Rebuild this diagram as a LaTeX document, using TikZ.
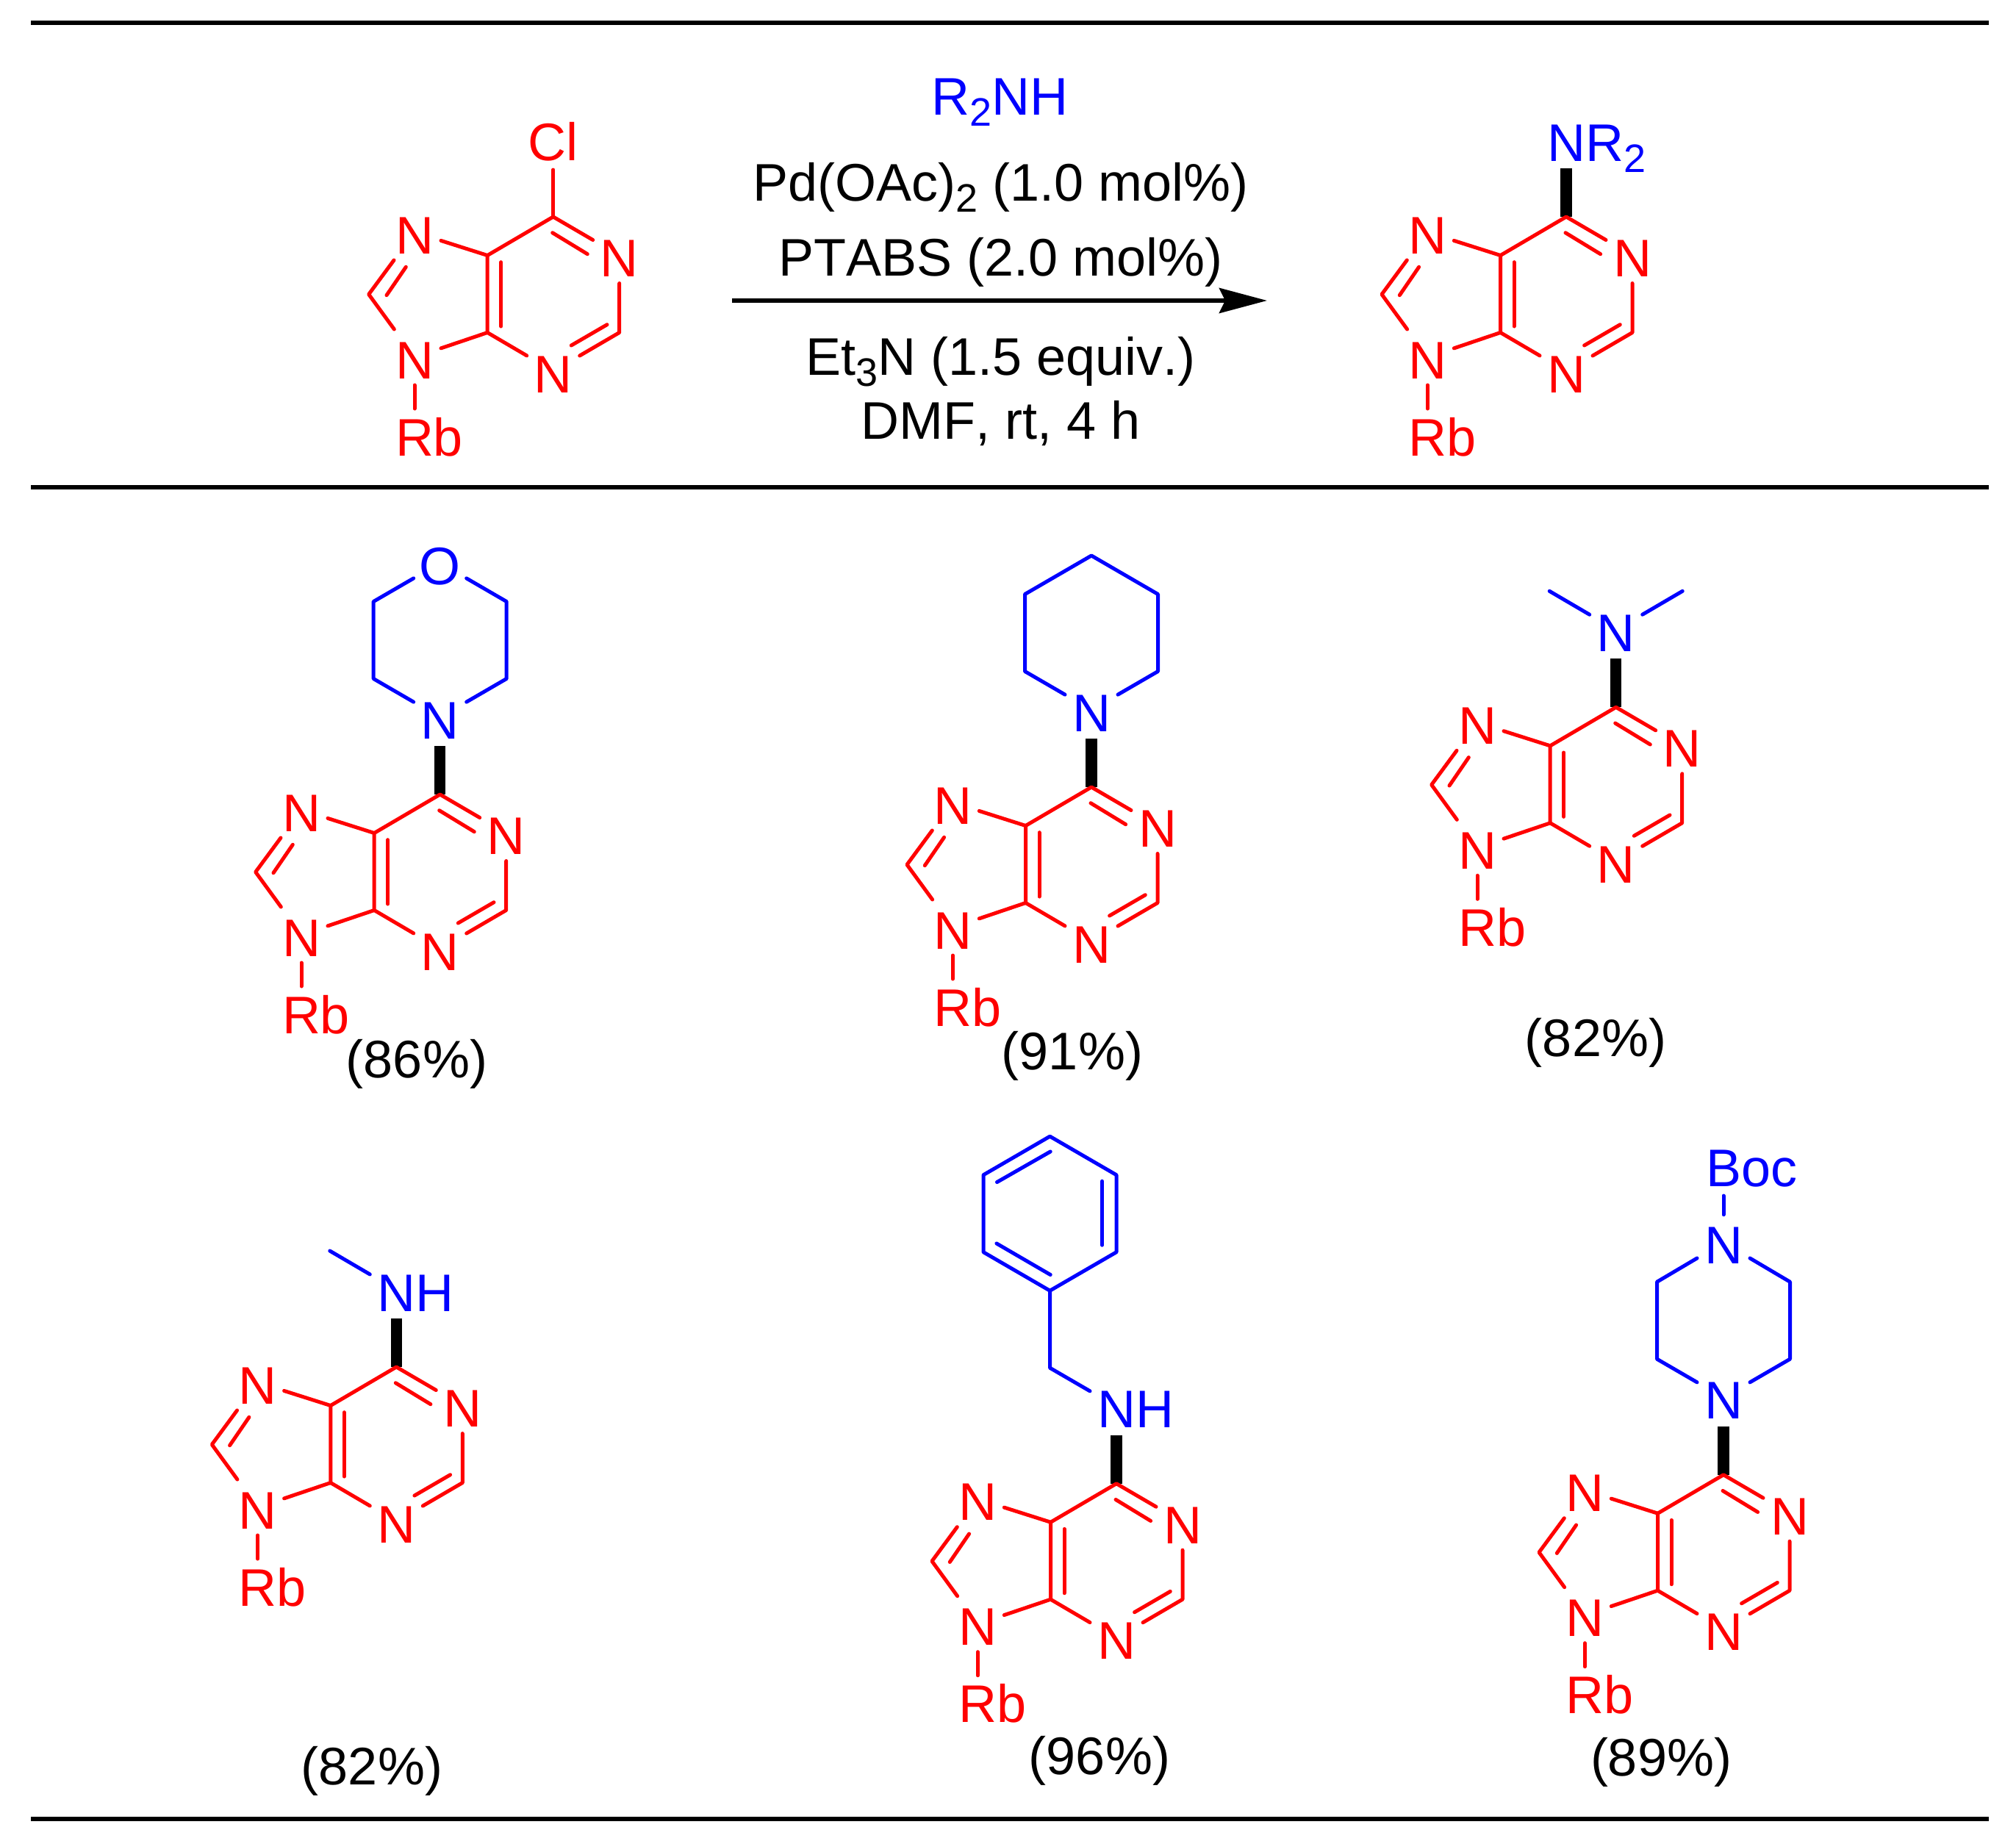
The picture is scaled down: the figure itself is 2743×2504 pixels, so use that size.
\documentclass[tikz,border=0pt]{standalone}
\usepackage{fontspec}
\setmainfont{Liberation Sans}[Kerning=Off]
\usetikzlibrary{arrows.meta,calc}
\pgfdeclarelayer{under}
\pgfsetlayers{under,main}
\newcommand\sbs[1]{\raisebox{-15pt}{\fontsize{54pt}{54pt}\selectfont #1}}
\tikzset{
  rbond/.style={draw=red,line width=5pt,line cap=round,line join=round},
  bbond/.style={draw=blue,line width=5pt,line cap=round,line join=round},
  wedgebond/.style={draw=black,line width=15.5pt,line cap=butt,shorten >=1pt},
  rulebar/.style={draw=black,line width=6pt},
  bigtext/.style={font=\fontsize{72pt}{80pt}\selectfont,inner sep=0pt,outer sep=0pt},
  atomn/.style={bigtext,minimum width=72pt,text height=67pt,text depth=9pt},
  atomr/.style={atomn,text=red},
  atomb/.style={atomn,text=blue},
  rbtext/.style={bigtext,text=red,anchor=base west,text height=64pt,text depth=0pt},
  labeltext/.style={bigtext,anchor=base,text=black},
  reagent/.style={bigtext,anchor=base,text=black}
}
% purine core: #1 prefix, (#2,#3) position of C6
\newcommand\purine[3]{%
\begin{scope}[shift={(#2,#3)}]
  \coordinate (#1C6) at (0,0);
  \coordinate (#1C5) at (-89.5,52.5);
  \coordinate (#1C4) at (-89.5,157.5);
  \coordinate (#1C2) at (90,157.5);
  \coordinate (#1C8) at (-251,105.5);
  \node[atomr] (#1N1) at (90,52.5) {N};
  \node[atomr] (#1N3) at (0,210) {N};
  \node[atomr] (#1N7) at (-188.7,21) {N};
  \node[atomr] (#1N9) at (-188.7,191) {N};
  \node[rbtext] (#1Rb) at (-214.7,325) {Rb};
  \coordinate (#1i1a) at (-1,21.7);
  \coordinate (#1i1b) at (46.6,50.7);
  \coordinate (#1i2a) at (-71,61.7);
  \coordinate (#1i2b) at (-71,149);
  \coordinate (#1i3a) at (24.6,175);
  \coordinate (#1i3b) at (73.3,146.7);
  \coordinate (#1i4a) at (-226.7,106.7);
  \coordinate (#1i4b) at (-200.4,68.3);
  \draw[rbond] (#1N7) -- (#1C5) -- (#1C6) -- (#1N1);
  \draw[rbond] (#1N1) -- (#1C2) -- (#1N3);
  \draw[rbond] (#1N3) -- (#1C4) -- (#1C5);
  \draw[rbond] (#1C4) -- (#1N9);
  \draw[rbond] (#1N9) -- (#1C8) -- (#1N7);
  \draw[rbond] (#1N9) -- (#1N9 |- #1Rb.north);
  \draw[rbond] (#1i1a) -- (#1i1b);
  \draw[rbond] (#1i2a) -- (#1i2b);
  \draw[rbond] (#1i3a) -- (#1i3b);
  \draw[rbond] (#1i4a) -- (#1i4b);
\end{scope}}
% six-ring corners above an atom at (0,0) of the current scope
\newcommand\ringcorners[1]{%
  \coordinate (#1a) at (-90.5,-52.5);
  \coordinate (#1b) at (-90.5,-157.5);
  \coordinate (#1c) at (0,-210);
  \coordinate (#1d) at (90.5,-157.5);
  \coordinate (#1e) at (90.5,-52.5);}
\newcommand\amwedge[2]{\begin{pgfonlayer}{under}\draw[wedgebond] (#1) -- (#2);\end{pgfonlayer}}
\begin{document}
\begin{tikzpicture}[x=1pt,y=-1pt]
\useasboundingbox (0,0) rectangle (2743,2504);
% rules
\coordinate (r1a) at (42,31); \coordinate (r1b) at (2706,31);
\coordinate (r2a) at (42,663); \coordinate (r2b) at (2706,663);
\coordinate (r3a) at (42,2475); \coordinate (r3b) at (2706,2475);
\draw[rulebar] (r1a) -- (r1b);
\draw[rulebar] (r2a) -- (r2b);
\draw[rulebar] (r3a) -- (r3b);
% reactant
\purine{s}{752.7}{295}
\node[bigtext,anchor=base,text=red,text height=52pt,text depth=13pt] (sCl) at (752.7,218) {Cl};
\draw[rbond] (sC6) -- (sCl.south);
% reagents
\node[reagent,text=blue] (rg1) at (1360,156) {R\sbs{2}NH};
\node[reagent] (rg2) at (1361.5,273) {Pd(OAc)\sbs{2} (1.0 mol\%)};
\node[reagent] (rg3) at (1361.5,375) {PTABS (2.0 mol\%)};
\node[reagent] (rg4) at (1361.5,510) {Et\sbs{3}N (1.5 equiv.)};
\node[reagent] (rg5) at (1361.5,597) {DMF, rt, 4 h};
\coordinate (arA) at (996,409);
\coordinate (arB) at (1724,409);
\draw[draw=black,line width=6pt,-{Stealth[length=65pt,width=34pt,inset=8pt,sep=0pt]}] (arA) -- (arB);
% product
\node[atomb] (pN) at (2131,190) {N\rlap{R\sbs{2}}};
\purine{p}{2131}{295}
\amwedge{pC6}{pN}
% morpholine product
\purine{a}{598.7}{1081}
\begin{scope}[shift={(598.7,976)}]
  \node[atomb] (aNx) at (0,0) {N};
  \ringcorners{ar}
  \node[atomb] (aO) at (0,-210) {O};
  \draw[bbond] (aNx) -- (ara) -- (arb) -- (aO);
  \draw[bbond] (aO) -- (ard) -- (are) -- (aNx);
\end{scope}
\amwedge{aC6}{aNx}
\node[labeltext] (ya) at (567,1466) {(86\%)};
% piperidine product
\purine{b}{1485}{1071}
\begin{scope}[shift={(1485,966)}]
  \node[atomb] (bNx) at (0,0) {N};
  \ringcorners{br}
  \draw[bbond] (bNx) -- (bra) -- (brb) -- (brc) -- (brd) -- (bre) -- (bNx);
\end{scope}
\amwedge{bC6}{bNx}
\node[labeltext] (yb) at (1459,1455) {(91\%)};
% dimethylamine product
\purine{c}{2198.7}{962.3}
\begin{scope}[shift={(2198.7,857.3)}]
  \node[atomb] (cNx) at (0,0) {N};
  \coordinate (cMe1) at (-90.5,-53);
  \coordinate (cMe2) at (90.5,-53);
  \draw[bbond] (cNx) -- (cMe1);
  \draw[bbond] (cNx) -- (cMe2);
\end{scope}
\amwedge{cC6}{cNx}
\node[labeltext] (yc) at (2171,1437) {(82\%)};
% methylamine product
\purine{d}{539.3}{1860}
\begin{scope}[shift={(539.3,1755)}]
  \node[atomb] (dNx) at (0,0) {N\rlap{H}};
  \coordinate (dMe) at (-90.5,-53);
  \draw[bbond] (dNx) -- (dMe);
\end{scope}
\amwedge{dC6}{dNx}
\node[labeltext] (yd) at (506,2428) {(82\%)};
% benzylamine product
\purine{e}{1519}{2018.7}
\begin{scope}[shift={(1519,1913.7)}]
  \node[atomb] (eNx) at (0,0) {N\rlap{H}};
  \coordinate (eCH) at (-90.5,-52.5);
  \coordinate (eRB) at (-90.5,-157.5);
  \draw[bbond] (eNx) -- (eCH) -- (eRB);
  \begin{scope}[shift={(-90.5,-157.5)}]
    \ringcorners{er}
    \coordinate (ei1a) at (71,-149);  \coordinate (ei1b) at (71,-62);
    \coordinate (ei2a) at (-72,-147.7); \coordinate (ei2b) at (0.7,-189.3);
    \coordinate (ei3a) at (-72.6,-64.3); \coordinate (ei3b) at (0.7,-21.7);
    \draw[bbond] (eRB) -- (era) -- (erb) -- (erc) -- (erd) -- (ere) -- cycle;
    \draw[bbond] (ei1a) -- (ei1b);
    \draw[bbond] (ei2a) -- (ei2b);
    \draw[bbond] (ei3a) -- (ei3b);
  \end{scope}
\end{scope}
\amwedge{eC6}{eNx}
\node[labeltext] (ye) at (1496,2414) {(96\%)};
% Boc-piperazine product
\purine{f}{2345}{2006.7}
\begin{scope}[shift={(2345,1901.7)}]
  \node[atomb] (fNx) at (0,0) {N};
  \ringcorners{fr}
  \node[atomb] (fNt) at (0,-211) {N};
  \node[bigtext,anchor=base west,text=blue,text height=52pt,text depth=13pt] (fBoc) at (-24,-287.7) {Boc};
  \draw[bbond] (fNx) -- (fra) -- (frb) -- (fNt);
  \draw[bbond] (fNt) -- (frd) -- (fre) -- (fNx);
  \draw[bbond] (fNt) -- (fNt |- fBoc.south);
\end{scope}
\amwedge{fC6}{fNx}
\node[labeltext] (yf) at (2260,2416) {(89\%)};
\end{tikzpicture}
\end{document}
